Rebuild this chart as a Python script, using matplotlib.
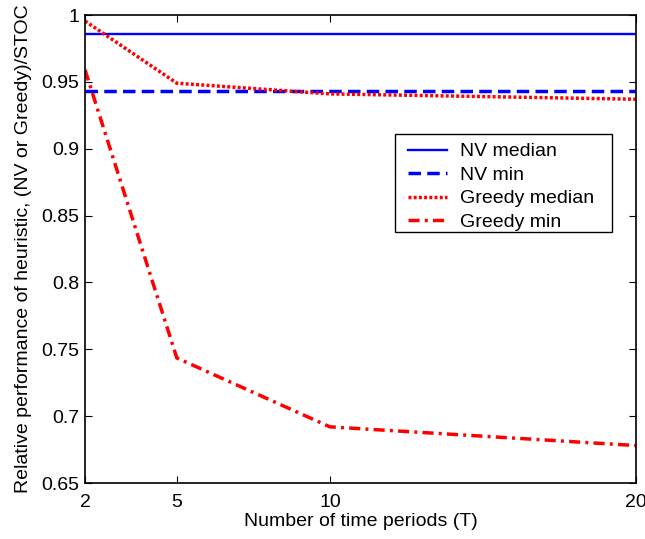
import matplotlib
matplotlib.use("Agg")
import matplotlib.pyplot as plt
from matplotlib.patches import Rectangle

plt.rcParams['font.family'] = ['Liberation Sans', 'DejaVu Sans']

periods = [2, 5, 10, 20]
nv_median = [0.986, 0.986, 0.986, 0.986]
nv_min = [0.943, 0.943, 0.943, 0.943]
greedy_median = [0.9955, 0.949, 0.941, 0.937]
greedy_min = [0.959, 0.7435, 0.692, 0.678]

x_ticks = [2, 5, 10, 20]
y_ticks = [0.65, 0.7, 0.75, 0.8, 0.85, 0.9, 0.95, 1.0]
y_ticklabels = ['0.65', '0.7', '0.75', '0.8', '0.85', '0.9', '0.95', '1']

W, H = 645, 539
L, R, T, B = 85, 636, 15, 483
fig = plt.figure(figsize=(W / 100, H / 100), dpi=100)
ax = fig.add_axes([L / W, 1 - B / H, (R - L) / W, (B - T) / H])

lw = 2.5
ax.plot(periods, nv_median, color='#0000ff', lw=1.7, label='NV median')
ax.plot(periods, nv_min, color='#0000ff', lw=lw, dashes=(3.6, 1.8),
        dash_capstyle='butt', label='NV min')
ax.plot(periods, greedy_median, color='#ff0000', lw=lw, dashes=(0.85, 0.65),
        dash_capstyle='butt', label='Greedy median')
ax.plot(periods, greedy_min, color='#ff0000', lw=lw, dashes=(3.2, 1.5, 0.85, 1.5),
        dash_capstyle='butt', label='Greedy min')

ax.set_xlim(2, 20)
ax.set_ylim(0.65, 1.0)
ax.set_xticks(x_ticks)
ax.set_xticklabels([str(t) for t in x_ticks])
ax.set_yticks(y_ticks)
ax.set_yticklabels(y_ticklabels)
ax.tick_params(direction='in', top=True, right=True, length=5, width=0.8,
               labelsize=14)
ax.tick_params(axis='x', pad=8)
ax.tick_params(axis='y', pad=4)
for s in ax.spines.values():
    s.set_linewidth(1.2)

ax.set_xlabel('Number of time periods (T)', fontsize=14, labelpad=1)
ax.set_ylabel('Relative performance of heuristic, (NV or Greedy)/STOC',
              fontsize=14, labelpad=7)

# legend box drawn as a separate framed patch behind the entries
bx0, bx1, by0, by1 = 395, 612, 134, 232
box = Rectangle(((bx0 - L) / (R - L), 1 - (by1 - T) / (B - T)),
                (bx1 - bx0) / (R - L), (by1 - by0) / (B - T),
                transform=ax.transAxes, facecolor='white', edgecolor='black',
                lw=1.0, zorder=4.5)
ax.add_patch(box)

leg = ax.legend(loc='upper left',
                bbox_to_anchor=((401 - L) / (R - L), 1 - (136 - T) / (B - T)),
                fontsize=14, frameon=False,
                borderpad=0.35, labelspacing=0.3, handlelength=2.0, handletextpad=0.67,
                borderaxespad=0)
leg.set_zorder(5)

fig.savefig('out.png', dpi=100)
